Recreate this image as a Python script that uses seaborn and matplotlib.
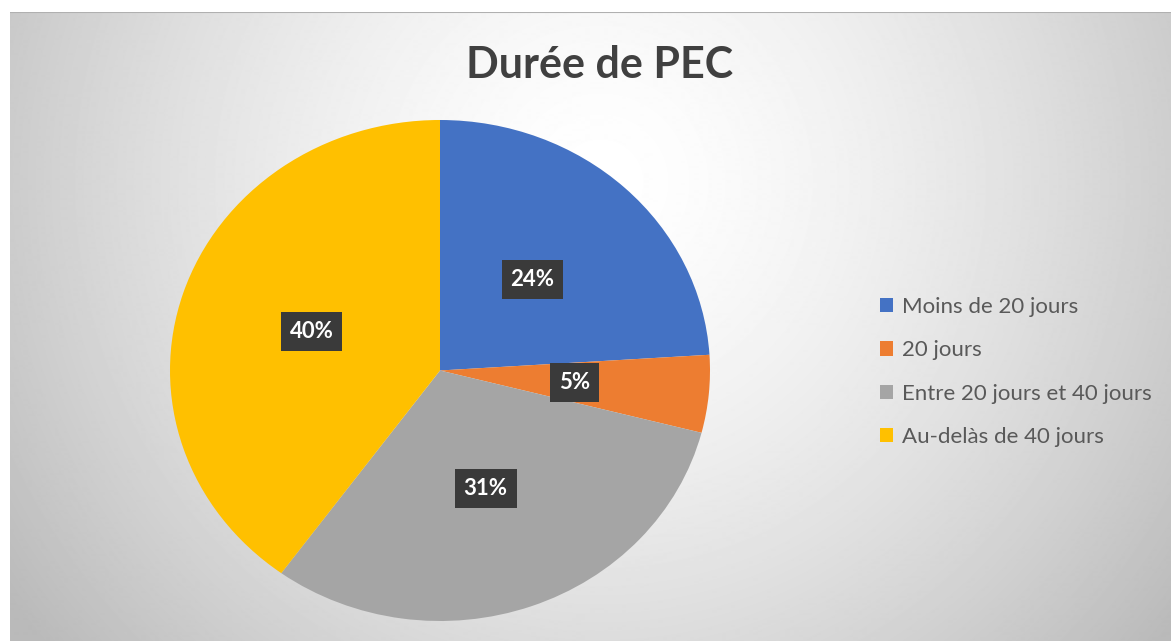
import numpy as np
import matplotlib.pyplot as plt
import seaborn as sns

# Chart data
categories = ['Moins de 20 jours', '20 jours', 'Entre 20 jours et 40 jours', 'Au-delàs de 40 jours']
shares = [24, 5, 31, 40]
colors = ['#4472C4', '#ED7D31', '#A5A5A5', '#FFC000']

# Style settings
sns.set_style('white')
plt.rcParams['font.family'] = ['Lato', 'DejaVu Sans']

plt.figure(figsize=(11.71, 6.41), dpi=100)

# Background with a radial grey gradient (Excel style)
plt.axes([10 / 1171, 0, 1 - 10 / 1171, 629 / 641])
xx, yy = np.meshgrid(np.arange(1161), np.arange(629))
dist = np.sqrt((xx - 590) ** 2 + (yy - 170) ** 2) / 720
shade = 1.0 - 0.27 * np.clip(dist, 0, 1) ** 1.5
plt.imshow(shade, cmap='gray', vmin=0, vmax=1, aspect='auto', interpolation='bilinear')
plt.axis('off')
plt.plot([0, 1160], [0, 0], color='#b0b0b0', lw=1.5)
plt.xlim(0, 1160)
plt.ylim(628, 0)

# Pie chart
plt.axes([170 / 1171, 20 / 641, 540 / 1171, 501 / 641])
wedges, texts, autotexts = plt.pie(shares, colors=colors, startangle=90, counterclock=False,
                                   autopct='%1.0f%%', pctdistance=0.5,
                                   wedgeprops=dict(linewidth=0))
for t in autotexts:  # dark label boxes
    t.set_color('white')
    t.set_fontsize(16)
    t.set_fontweight('bold')
    t.set_bbox(dict(boxstyle='square,pad=0.4', facecolor='#3a3a3a', edgecolor='none'))
plt.gca().set_aspect('auto')
plt.xlim(-1, 1)
plt.ylim(-1, 1)

# Title and legend
plt.figtext(600 / 1171, 1 - 65 / 641, 'Durée de PEC', ha='center', va='center',
            fontsize=31, fontweight='bold', color='#404040')
plt.legend(wedges, categories, loc='center left', bbox_to_anchor=(880 / 1171, 1 - 372 / 641),
           bbox_transform=plt.gcf().transFigure, frameon=False, fontsize=16,
           labelcolor='#595959', handlelength=0.6, handleheight=0.6, handletextpad=0.4,
           labelspacing=1.05, borderpad=0, borderaxespad=0)

plt.savefig('out.png', dpi=100)
